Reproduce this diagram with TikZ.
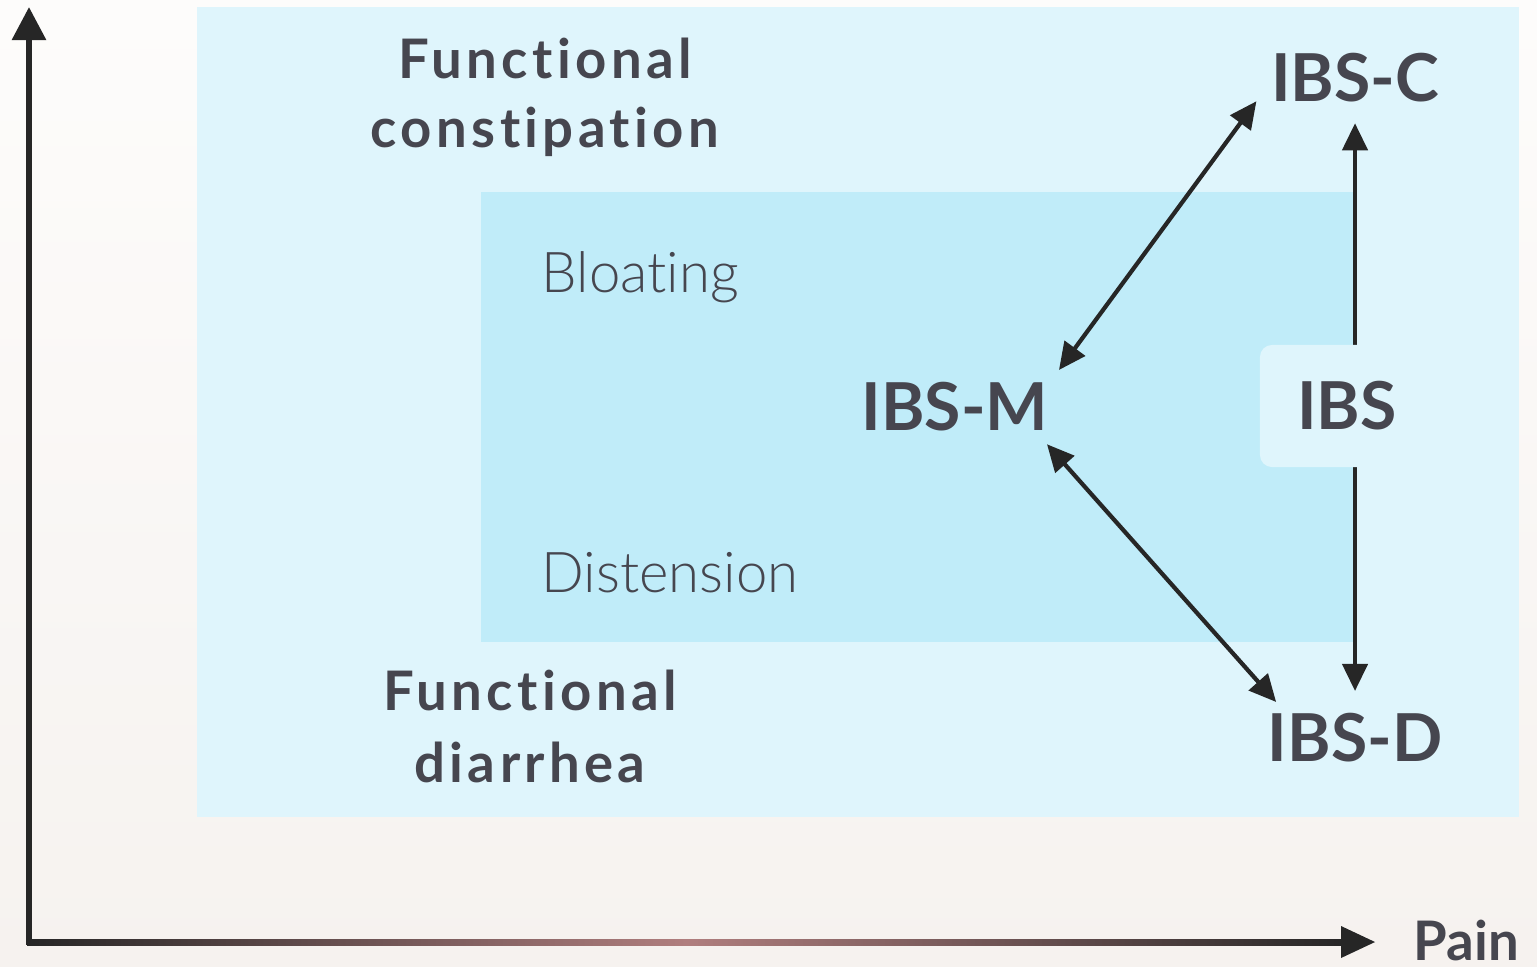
\documentclass[tikz,border=0pt]{standalone}
\usepackage{fontspec}
\setmainfont{Lato}
\newfontfamily\headfont[LetterSpace=8,Ligatures=NoCommon]{Lato Bold}
\newfontfamily\ibsfont[Ligatures=NoCommon]{Lato Bold}
\newfontfamily\lightfont[Ligatures=NoCommon]{Lato Light}
\usetikzlibrary{arrows.meta}
\definecolor{bgtop}{HTML}{FDFCFB}
\definecolor{bgbottom}{HTML}{F6F2EF}
\definecolor{outerblue}{HTML}{DFF5FC}
\definecolor{innerblue}{HTML}{C0ECF9}
\definecolor{labelgray}{HTML}{46464F}
\definecolor{axisdark}{HTML}{262626}
\definecolor{axispink}{HTML}{B07E7E}
\tikzset{
  heading/.style={font=\headfont\fontsize{15.5}{18}\selectfont, text=labelgray, inner sep=0pt, anchor=base},
  subtype/.style={font=\ibsfont\fontsize{18.8}{22}\selectfont, text=labelgray, inner sep=0pt, anchor=base},
  symptom/.style={font=\lightfont\fontsize{16}{19}\selectfont, text=labelgray, inner sep=0pt, anchor=base west},
  link/.style={axisdark, line width=1.2pt, {Triangle[length=0.27cm,width=0.25cm]}-{Triangle[length=0.27cm,width=0.25cm]}},
  axis/.style={axisdark, line width=1.7pt}
}
\begin{document}
\begin{tikzpicture}[x=0.01cm,y=-0.01cm]
  \useasboundingbox (0,0) rectangle (1537,966);
  \shade[top color=bgtop,bottom color=bgbottom] (0,0) rectangle (1537,966);
  % regions
  \fill[outerblue] (197,7) rectangle (1519,817);
  \fill[innerblue] (481,192) rectangle (1353,642);
  % axes
  \coordinate (origin) at (29,942);
  \coordinate (ytip) at (29,7);
  \coordinate (xtip) at (1375,942);
  \draw[axis,-{Triangle[length=0.33cm,width=0.33cm]}] ([yshift=-0.8pt]origin) -- (ytip);
  \shade[left color=axisdark,right color=axisdark,middle color=axispink] (27,939) rectangle (1345,945);
  \fill[axisdark] (xtip) -- ++(-34,-16) -- ++(0,32) -- cycle;
  \node[subtype,font=\ibsfont\fontsize{15.5}{18}\selectfont,anchor=base west] (pain) at (1413,960) {Pain};
  % labels
  \node[heading] (fc1) at (545,78) {Functional};
  \node[heading] (fc2) at (545,147) {constipation};
  \node[heading] (fd1) at (530,710) {Functional};
  \node[heading] (fd2) at (530,782) {diarrhea};
  \node[symptom] (bloat) at (541,292) {Bloating};
  \node[symptom] (disten) at (541,592) {Distension};
  \node[subtype] (ibsc) at (1355,101) {IBS-C};
  \node[subtype] (ibsd) at (1355,761) {IBS-D};
  \node[subtype] (ibsm) at (955,430) {IBS-M};
  % connectors
  \draw[link] ([shift={(10,-11)}]ibsm.north east) -- ([shift={(-14,-1)}]ibsc.south west);
  \draw[link] ([shift={(-2,13)}]ibsm.south east) -- ([shift={(9,-10)}]ibsd.north west);
  \draw[link] ([shift={(0,21)}]ibsc.south) -- ([shift={(0,-21)}]ibsd.north);
  \node[subtype,fill=outerblue,rounded corners=0.12cm,minimum width=1.74cm,minimum height=1.22cm,anchor=center] (ibs) at (1347,406) {IBS};
\end{tikzpicture}
\end{document}
